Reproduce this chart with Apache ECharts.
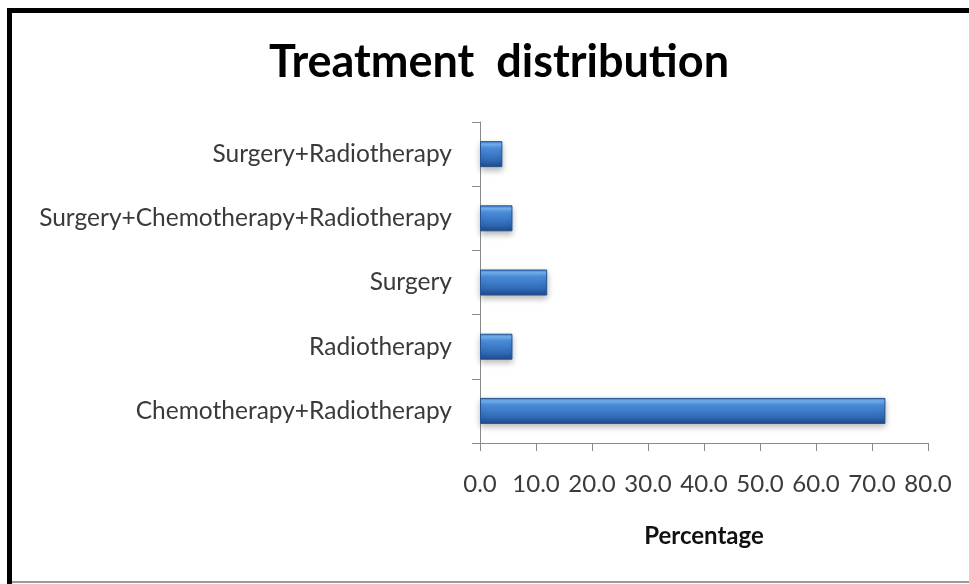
<!DOCTYPE html>
<html>
<head>
<meta charset="utf-8">
<script src="https://cdn.jsdelivr.net/npm/echarts@6/dist/echarts.min.js"></script>
<style>
  html, body { margin: 0; padding: 0; background: #fff; }
  #frame {
    position: absolute; left: 0; top: 0; width: 969px; height: 584px;
    box-sizing: border-box; overflow: hidden;
  }
  #chart { position: absolute; left: 0; top: 0; width: 969px; height: 584px; }
  #edgeTop { position: absolute; left: 7px; top: 8px; width: 962px; height: 5px; background: #000; }
  #edgeLeft { position: absolute; left: 7px; top: 8px; width: 5px; height: 576px; background: #000; }
  #edgeBottom { position: absolute; left: 12px; top: 581px; width: 957px; height: 2px; background: #9a9a9a; }
</style>
</head>
<body>
<div id="frame">
  <div id="chart"></div>
  <div id="edgeTop"></div>
  <div id="edgeLeft"></div>
  <div id="edgeBottom"></div>
</div>
<script>
// Treatment categories, bottom to top as they appear on the axis
const categories = [
  'Chemotherapy+Radiotherapy',
  'Radiotherapy',
  'Surgery',
  'Surgery+Chemotherapy+Radiotherapy',
  'Surgery+Radiotherapy'
];
// Share of patients per treatment (%)
const percentages = [72.4, 5.8, 12.0, 5.8, 4.0];
// Percentage axis ticks
const xTicks = [0, 10, 20, 30, 40, 50, 60, 70, 80];

const FONT = 'Lato, "Open Sans", sans-serif';
const chart = echarts.init(document.getElementById('chart'), null, { renderer: 'canvas' });

// Bevelled blue fill for the bars
const barFill = new echarts.graphic.LinearGradient(0, 0, 0, 1, [
  { offset: 0.0, color: '#3b7ccc' },
  { offset: 0.12, color: '#74b4f2' },
  { offset: 0.28, color: '#4b8ddb' },
  { offset: 0.75, color: '#3068b6' },
  { offset: 1.0, color: '#1f4a86' }
]);

chart.setOption({
  animation: false,
  backgroundColor: '#ffffff',
  title: {
    text: 'Treatment  distribution',
    left: 494,
    textAlign: 'center',
    top: 35,
    textStyle: { fontFamily: FONT, fontWeight: 'bold', fontSize: 45, color: '#000' }
  },
  grid: { left: 480, right: 41, top: 122, bottom: 141, containLabel: false },
  xAxis: {
    type: 'value',
    min: xTicks[0],
    max: xTicks[xTicks.length - 1],
    interval: xTicks[1] - xTicks[0],
    name: 'Percentage',
    nameLocation: 'middle',
    nameGap: 81,
    nameTextStyle: { fontFamily: FONT, fontWeight: 'bold', fontSize: 24, color: '#111' },
    axisLine: { show: true, lineStyle: { color: '#8a8a8a', width: 1 } },
    axisTick: { show: true, length: 8, lineStyle: { color: '#8a8a8a' } },
    splitLine: { show: false },
    axisLabel: {
      margin: 29,
      fontFamily: FONT, fontSize: 24, color: '#3a3a3a',
      formatter: v => v.toFixed(1)
    }
  },
  yAxis: {
    type: 'category',
    data: categories,
    axisLine: { show: true, lineStyle: { color: '#8a8a8a', width: 1 } },
    axisTick: { show: true, length: 8, lineStyle: { color: '#8a8a8a' } },
    axisLabel: { margin: 28, fontFamily: FONT, fontSize: 24.5, color: '#3a3a3a' }
  },
  series: [{
    type: 'bar',
    data: percentages,
    barWidth: 26,
    itemStyle: {
      color: barFill,
      borderColor: '#24548f',
      borderWidth: 1,
      shadowColor: 'rgba(0,0,0,0.28)',
      shadowBlur: 6,
      shadowOffsetY: 3
    }
  }]
});
</script>
</body>
</html>
